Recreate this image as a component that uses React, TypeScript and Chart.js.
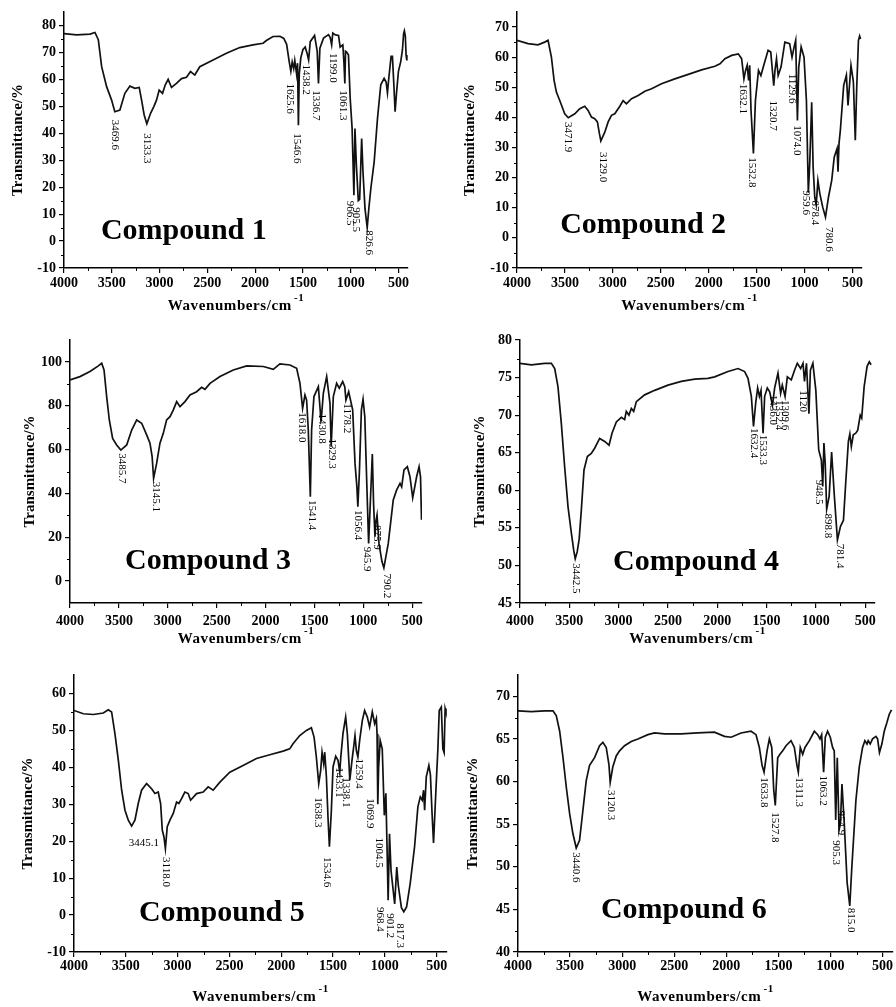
import React, { useEffect, useRef } from "react";
import { Chart, registerables } from "chart.js";

Chart.register(...registerables);

const FONT = '"Liberation Serif", "Times New Roman", serif';

// ---------- shared axis ticks ----------
const xTicks = [4000, 3500, 3000, 2500, 2000, 1500, 1000, 500];
const xMinor = [3750, 3250, 2750, 2250, 1750, 1250, 750];

// ---------- Compound 1 ----------
const wn1 = [4000, 3868, 3728, 3676, 3641, 3606, 3554, 3502, 3468, 3415, 3363, 3310, 3258, 3213, 3188, 3161, 3133, 3094, 3060, 3032, 3004, 2969, 2941, 2910, 2875, 2823, 2770, 2718, 2676, 2631, 2579, 2440, 2300, 2161, 2022, 1917, 1882, 1813, 1740, 1700, 1670, 1645, 1626, 1612, 1596, 1585, 1566, 1556, 1547, 1538, 1522, 1500, 1476, 1455, 1440, 1423, 1378, 1350, 1337, 1322, 1284, 1232, 1214, 1199, 1187, 1160, 1127, 1110, 1082, 1070, 1061, 1054, 1040, 1023, 1005, 985, 966, 955, 940, 920, 906, 897, 885, 870, 850, 827, 810, 789, 754, 719, 685, 650, 629, 615, 601, 577, 563, 548, 535, 520, 500, 476, 458, 446, 438, 428, 420, 412];
const t1 = [77, 76.5, 76.8, 77.4, 74.7, 64.7, 57.3, 52.3, 48, 48.6, 54.8, 57.5, 56.7, 57, 52.3, 46.8, 43.5, 47.4, 49.9, 52.3, 56, 54.8, 57.9, 60, 57, 58.5, 60.3, 60.8, 62.9, 61.6, 64.7, 67.2, 69.7, 71.8, 72.8, 73.4, 74.4, 75.9, 76, 75.2, 73, 67, 63, 66.5, 64, 67, 62, 66, 43, 62, 68, 71, 72, 69.5, 67.2, 74, 76.3, 70.4, 58.5, 71.6, 75.3, 76.6, 75.5, 72.8, 77.2, 76.5, 76.3, 72, 72.8, 66, 58.5, 70.4, 70, 69, 53, 41.8, 17, 41.8, 28, 15, 15.5, 25, 38, 25, 12, 5, 12, 19.5, 29.4, 45.6, 58, 60.4, 59, 55, 60.4, 68.5, 68.5, 58, 48, 55, 63, 66.6, 71, 77, 78, 76, 69, 67];
const peakText1 = ["3469.6", "3133.3", "1625.6", "1546.6", "1438.2", "1336.7", "1199.0", "1061.3", "966.5", "905.5", "826.6"];
const peakX1 = [3467, 3136, 1639, 1558, 1465, 1360, 1186, 1081, 1005, 949, 813];
const peakY1 = [45, 40, 58.5, 40, 65.5, 56, 69.8, 56, 15, 12.5, 4];
const yTicks1 = [-10, 0, 10, 20, 30, 40, 50, 60, 70, 80];

// ---------- Compound 2 ----------
const wn2 = [4000, 3885, 3781, 3711, 3676, 3641, 3613, 3589, 3554, 3502, 3465, 3397, 3345, 3293, 3258, 3223, 3189, 3161, 3140, 3125, 3084, 3049, 3014, 2980, 2927, 2893, 2858, 2805, 2736, 2666, 2596, 2492, 2353, 2213, 2074, 1935, 1882, 1830, 1760, 1691, 1656, 1632, 1615, 1598, 1583, 1572, 1558, 1533, 1512, 1480, 1455, 1425, 1380, 1352, 1321, 1308, 1292, 1275, 1245, 1205, 1155, 1130, 1108, 1092, 1074, 1060, 1035, 1005, 980, 960, 945, 925, 910, 893, 878, 860, 840, 810, 781, 750, 716, 690, 660, 650, 640, 626, 591, 563, 546, 515, 490, 470, 455, 437, 425, 415];
const t2 = [65.6, 64.5, 64.1, 65, 65.6, 60, 52.3, 48.4, 45.6, 41.2, 39.9, 41.2, 42.9, 43.7, 42.3, 40.1, 39.6, 38.5, 34.6, 32.2, 35.1, 38.5, 40.7, 41.2, 43.7, 45.6, 44.5, 46.2, 47.3, 48.7, 49.5, 51.2, 52.8, 54.3, 55.8, 57, 57.8, 59.5, 60.6, 61.1, 59.5, 52.8, 55.6, 57.3, 52.3, 57.3, 42.3, 28, 45.6, 55.6, 53.9, 57.3, 62.3, 61.7, 50.5, 55.6, 59.5, 53.9, 56.7, 65, 64.5, 60, 63.4, 65.6, 39, 56.7, 63.4, 60, 45.6, 15, 25, 45, 23.5, 13.5, 11, 19, 14.7, 10.2, 6.9, 13.5, 19.1, 26.8, 29.7, 22, 31.3, 35.7, 50.6, 54, 44, 57.3, 51.8, 32.4, 50, 65.6, 67, 66];
const peakText2 = ["3471.9", "3129.0", "1632.1", "1532.8", "1320.7", "1129.6", "1074.0", "959.6", "878.4", "780.6"];
const peakX2 = [3467, 3101, 1640, 1550, 1325, 1133, 1081, 985, 890, 750];
const peakY2 = [38.5, 28.5, 51.2, 26.8, 45.6, 54.5, 37.4, 15.8, 12.4, 3.6];
const yTicks2 = [-10, 0, 10, 20, 30, 40, 50, 60, 70];

// ---------- Compound 3 ----------
const wn3 = [4000, 3898, 3796, 3710, 3676, 3652, 3625, 3598, 3564, 3523, 3480, 3420, 3369, 3318, 3267, 3216, 3182, 3160, 3145, 3114, 3080, 3046, 3012, 2977, 2943, 2909, 2875, 2824, 2773, 2705, 2654, 2620, 2568, 2466, 2330, 2193, 2023, 1921, 1853, 1750, 1682, 1648, 1621, 1597, 1580, 1563, 1542, 1529, 1505, 1460, 1432, 1409, 1375, 1341, 1329, 1307, 1273, 1246, 1211, 1190, 1178, 1150, 1109, 1085, 1066, 1056, 1040, 1020, 1003, 985, 965, 946, 920, 908, 895, 881, 872, 860, 840, 810, 790, 745, 694, 660, 625, 608, 584, 550, 523, 495, 455, 430, 415, 405];
const t3 = [91.8, 93.3, 95.6, 98.2, 99.4, 96.3, 84.2, 73.5, 65.1, 62.1, 59.8, 62.1, 68.9, 73.5, 72, 66.7, 62.9, 56.8, 46.9, 53.7, 62.9, 67.4, 73.5, 75, 78.1, 81.9, 79.6, 81.9, 84.9, 86.4, 88.4, 87.5, 90.2, 93.3, 96.3, 98.2, 97.9, 96.6, 99.1, 98.6, 97.1, 90.2, 78.8, 84.9, 82.6, 68.9, 38.5, 68.9, 84.2, 88.7, 72.7, 85.7, 93.3, 81.1, 61.3, 84.2, 90.2, 88, 91, 88.7, 82.6, 86.4, 78.1, 53.7, 43.1, 33.9, 50, 78, 83, 75, 45, 17.2, 45, 58, 35, 20.2, 27, 30.1, 17.2, 9, 6, 17.2, 37, 41.5, 44.6, 43, 50.7, 52.2, 47.6, 38, 47.6, 52.2, 47.6, 28];
const peakText3 = ["3485.7", "3145.1", "1618.0", "1541.4", "1430.8", "1329.3", "1178.2", "1056.4", "945.9", "875.9", "790.2"];
const peakX3 = [3472, 3121, 1631, 1529, 1420, 1317, 1171, 1051, 966, 864, 762];
const peakY3 = [58.3, 45.3, 77, 37, 76.5, 65.1, 81.1, 32.4, 15.7, 25.6, 3.5];
const yTicks3 = [0, 20, 40, 60, 80, 100];

// ---------- Compound 4 ----------
const wn4 = [4000, 3885, 3750, 3682, 3648, 3615, 3581, 3547, 3513, 3479, 3455, 3440, 3420, 3400, 3378, 3351, 3317, 3277, 3243, 3192, 3141, 3097, 3067, 3023, 2972, 2939, 2922, 2895, 2871, 2847, 2820, 2736, 2634, 2499, 2364, 2229, 2094, 2026, 1891, 1789, 1722, 1688, 1654, 1632, 1610, 1590, 1572, 1556, 1535, 1519, 1492, 1468, 1440, 1418, 1384, 1357, 1340, 1312, 1289, 1249, 1215, 1188, 1154, 1130, 1115, 1095, 1070, 1055, 1030, 1000, 971, 944, 930, 918, 905, 890, 865, 840, 812, 781, 750, 720, 695, 670, 655, 640, 620, 595, 575, 550, 535, 510, 480, 458, 440];
const t4 = [76.9, 76.7, 76.9, 76.9, 76.2, 73.8, 68.9, 63.1, 57.8, 54.3, 52, 50.9, 51.8, 53.5, 57.4, 62.7, 64.5, 64.9, 65.6, 66.9, 66.5, 66, 67.6, 69.1, 69.7, 69.4, 70.5, 70, 70.9, 70.5, 71.8, 72.7, 73.3, 74, 74.5, 74.8, 74.9, 75.1, 75.8, 76.2, 75.8, 74.9, 72.5, 68.5, 71.6, 73.6, 72.5, 73.3, 67.6, 72.5, 73.6, 73.1, 71.3, 73.6, 75.6, 72.9, 74, 72.5, 75.1, 74.7, 76, 76.9, 76.2, 76.9, 74.5, 76.9, 70.2, 76, 76.9, 73.3, 65.4, 64, 60.5, 66.3, 63.6, 57.5, 59.2, 65.1, 59.2, 53.4, 55.2, 56, 61.4, 66.5, 67.5, 65.8, 67.4, 67.6, 68, 70, 69.6, 73.8, 76.5, 77.1, 76.7];
const peakText4 = ["3442.5", "1632.4", "1533.3", "1436.0", "1352.4", "1309.6", "1120", "948.5", "898.8", "781.4"];
const peakX4 = [3429, 1632, 1540, 1437, 1373, 1312, 1133, 964, 880, 755];
const peakY4 = [50.3, 68.3, 67.4, 72.7, 72, 72, 73.3, 61.4, 56.9, 52.9];
const yTicks4 = [45, 50, 55, 60, 65, 70, 75, 80];

// ---------- Compound 5 ----------
const wn5 = [4000, 3910, 3813, 3717, 3669, 3637, 3605, 3572, 3540, 3508, 3476, 3444, 3412, 3380, 3348, 3299, 3251, 3219, 3187, 3164, 3148, 3132, 3118, 3100, 3074, 3042, 3010, 2988, 2962, 2930, 2898, 2875, 2817, 2753, 2705, 2657, 2592, 2496, 2368, 2239, 2110, 1982, 1918, 1886, 1821, 1757, 1709, 1683, 1661, 1638, 1619, 1606, 1590, 1580, 1564, 1548, 1535, 1516, 1500, 1474, 1452, 1435, 1425, 1404, 1378, 1362, 1346, 1338, 1317, 1301, 1288, 1275, 1260, 1243, 1217, 1195, 1169, 1147, 1121, 1098, 1082, 1075, 1068, 1060, 1045, 1025, 1005, 990, 980, 968, 955, 940, 905, 885, 870, 840, 817, 790, 755, 713, 681, 658, 639, 626, 616, 600, 575, 560, 545, 530, 505, 488, 475, 455, 440, 428, 418, 410];
const t5 = [55.4, 54.5, 54.3, 54.7, 55.6, 55, 49.1, 41.9, 33.8, 28.4, 25.7, 24.1, 25.7, 30.2, 33.8, 35.6, 34.2, 32.9, 33.3, 30.2, 23, 21.2, 18, 23.9, 25.7, 27.5, 30.6, 30.2, 31.5, 33.3, 32.9, 31.1, 32.9, 33.3, 34.7, 33.8, 36, 38.7, 40.5, 42.4, 43.4, 44.4, 45, 46.4, 48.6, 50, 50.7, 48.2, 42.8, 35.6, 39.2, 44.1, 41, 44.1, 37.4, 26.1, 18.5, 28.4, 40.1, 43, 41.9, 38.7, 42.8, 49.1, 53.6, 49.1, 41, 36.5, 41.9, 45.5, 48.6, 44.6, 42.8, 47.3, 52.7, 55.4, 53.6, 50.9, 55, 51.8, 53.2, 49, 30, 40, 47.3, 45, 27, 33, 20, 4, 22, 12, 3, 13, 8, 2, 0.9, 2.2, 8.6, 18.5, 29.3, 32, 31.1, 33.8, 28.4, 37.4, 40.5, 38, 28, 19.5, 35, 45, 55.4, 56.3, 45, 44, 55.9, 55];
const peakText5 = ["3118.0", "1638.3", "1534.6", "1433.1", "1338.1", "1259.4", "1069.9", "1004.5", "968.4", "901.2", "817.3"];
const peakX5 = [3116, 1645, 1560, 1443, 1372, 1250, 1147, 1057, 1044, 954, 858];
const peakY5 = [15.7, 31.9, 15.7, 40, 37.3, 42.4, 31.6, 21, 2.2, 0.5, -2.2];
const flatText5 = ["3445.1"];
const flatX5 = [3325];
const flatY5 = [19.5];
const yTicks5 = [-10, 0, 10, 20, 30, 40, 50, 60];

// ---------- Compound 6 ----------
const wn6 = [4000, 3872, 3744, 3664, 3632, 3600, 3568, 3536, 3504, 3473, 3441, 3409, 3377, 3345, 3313, 3265, 3217, 3185, 3153, 3127, 3115, 3090, 3057, 3025, 2977, 2913, 2849, 2753, 2689, 2594, 2434, 2274, 2114, 2018, 1954, 1859, 1763, 1715, 1683, 1657, 1638, 1609, 1587, 1564, 1545, 1530, 1507, 1485, 1459, 1427, 1379, 1347, 1322, 1309, 1290, 1267, 1245, 1203, 1155, 1123, 1101, 1085, 1066, 1050, 1028, 1002, 980, 964, 950, 935, 918, 905, 890, 868, 840, 815, 795, 756, 724, 692, 670, 650, 638, 619, 596, 564, 548, 530, 507, 484, 459, 436, 414];
const t6 = [68.3, 68.2, 68.3, 68.3, 67.7, 65.9, 62.8, 59.3, 56.2, 53.9, 52.2, 53.1, 56.6, 60.1, 61.9, 62.8, 64.2, 64.6, 64, 62, 59.9, 61.7, 63, 63.6, 64.2, 64.7, 65, 65.5, 65.7, 65.6, 65.6, 65.7, 65.8, 65.3, 65.2, 65.7, 65.9, 65.5, 64, 61.9, 61.1, 63.6, 65, 64, 59, 57.2, 62.8, 63.2, 63.6, 64.2, 64.8, 64, 61.9, 61.1, 64, 63.2, 64, 64.8, 65.9, 65.5, 65, 65.5, 61.1, 65.2, 65.9, 65.2, 64, 63.6, 55.5, 62.8, 54.3, 55.1, 59.7, 55.1, 48.1, 45.4, 50, 57.8, 61.7, 64, 64.8, 64.4, 64.8, 64.4, 65, 65.3, 65, 63.4, 64.4, 65.9, 66.9, 67.9, 68.4];
const peakText6 = ["3440.6", "3120.3", "1633.8", "1527.8", "1311.3", "1063.2", "954.9", "905.3", "815.0"];
const peakX6 = [3441, 3105, 1641, 1535, 1302, 1072, 905, 952, 807];
const peakY6 = [51.7, 59, 60.5, 56.4, 60.5, 60.7, 56.6, 53.1, 45.2];
const yTicks6 = [40, 45, 50, 55, 60, 65, 70];

// ---------- layout table ----------
const panels = [
  { wn: wn1, t: t1, pt: peakText1, px: peakX1, py: peakY1, ft: [], fx: [], fy: [], yTicks: yTicks1, yMin: -10, yMax: 85, title: "Compound 1", tx: 2746, ty: 0.7,
    cx: 0, cy: 0, w: 448, h: 325, L: 64, R: 408, T: 12, B: 268, tickPad: 2, yTitleX: 18, xTitleY: 306 },
  { wn: wn2, t: t2, pt: peakText2, px: peakX2, py: peakY2, ft: [], fx: [], fy: [], yTicks: yTicks2, yMin: -10, yMax: 75, title: "Compound 2", tx: 2684, ty: 1.5,
    cx: 448, cy: 0, w: 448, h: 325, L: 517, R: 862, T: 12, B: 268, tickPad: 2, yTitleX: 22, xTitleY: 306 },
  { wn: wn3, t: t3, pt: peakText3, px: peakX3, py: peakY3, ft: [], fx: [], fy: [], yTicks: yTicks3, yMin: -10, yMax: 110, title: "Compound 3", tx: 2589, ty: 5.5,
    cx: 0, cy: 325, w: 448, h: 335, L: 70, R: 422, T: 340, B: 603, tickPad: 5, yTitleX: 30, xTitleY: 314 },
  { wn: wn4, t: t4, pt: peakText4, px: peakX4, py: peakY4, ft: [], fx: [], fy: [], yTicks: yTicks4, yMin: 45, yMax: 80, title: "Compound 4", tx: 2215, ty: 49.4,
    cx: 448, cy: 325, w: 448, h: 335, L: 520, R: 875, T: 340, B: 603, tickPad: 5, yTitleX: 32, xTitleY: 314 },
  { wn: wn5, t: t5, pt: peakText5, px: peakX5, py: peakY5, ft: flatText5, fx: flatX5, fy: flatY5, yTicks: yTicks5, yMin: -10, yMax: 65, title: "Compound 5", tx: 2573, ty: -1.5,
    cx: 0, cy: 660, w: 448, h: 347, L: 74, R: 447, T: 675, B: 952, tickPad: 1, yTitleX: 28, xTitleY: 337 },
  { wn: wn6, t: t6, pt: peakText6, px: peakX6, py: peakY6, ft: [], fx: [], fy: [], yTicks: yTicks6, yMin: 40, yMax: 72.5, title: "Compound 6", tx: 2408, ty: 44,
    cx: 448, cy: 660, w: 448, h: 347, L: 518, R: 893, T: 675, B: 952, tickPad: 1, yTitleX: 25, xTitleY: 337 },
];

type PanelCfg = (typeof panels)[number];

const decorPlugin = {
  id: "decor",
  afterDatasetsDraw(chart: any, _args: any, opts: any) {
    const cfg: PanelCfg = opts.cfg;
    if (!cfg) return;
    const { ctx, chartArea } = chart;
    const xs = chart.scales.x;
    const ys = chart.scales.y;
    ctx.save();
    // minor ticks
    ctx.strokeStyle = "#000";
    ctx.lineWidth = 1;
    ctx.beginPath();
    for (const v of xMinor) {
      const p = Math.round(xs.getPixelForValue(v)) + 0.5;
      ctx.moveTo(p, chartArea.bottom);
      ctx.lineTo(p, chartArea.bottom + 3);
    }
    const yt = cfg.yTicks;
    for (let i = 0; i < yt.length - 1; i++) {
      const p = Math.round(ys.getPixelForValue((yt[i] + yt[i + 1]) / 2)) + 0.5;
      ctx.moveTo(chartArea.left - 3, p);
      ctx.lineTo(chartArea.left, p);
    }
    ctx.stroke();

    // peak labels (rotated, reading downward)
    ctx.fillStyle = "#000";
    ctx.font = `11px ${FONT}`;
    ctx.textAlign = "left";
    ctx.textBaseline = "middle";
    cfg.pt.forEach((txt: string, i: number) => {
      const x = xs.getPixelForValue(cfg.px[i]);
      const y = ys.getPixelForValue(cfg.py[i]);
      ctx.save();
      ctx.translate(x, y);
      ctx.rotate(Math.PI / 2);
      ctx.fillText(txt, 0, 0);
      ctx.restore();
    });
    // horizontal peak labels
    ctx.textAlign = "center";
    (cfg.ft as string[]).forEach((txt, i) => {
      ctx.fillText(txt, xs.getPixelForValue((cfg.fx as number[])[i]), ys.getPixelForValue((cfg.fy as number[])[i]));
    });

    // compound name
    ctx.font = `bold 30px ${FONT}`;
    ctx.textAlign = "center";
    ctx.textBaseline = "alphabetic";
    ctx.fillText(cfg.title, xs.getPixelForValue(cfg.tx), ys.getPixelForValue(cfg.ty));

    // y axis title
    ctx.font = `bold 15px ${FONT}`;
    ctx.textBaseline = "middle";
    ctx.save();
    ctx.translate(cfg.yTitleX, (chartArea.top + chartArea.bottom) / 2);
    ctx.rotate(-Math.PI / 2);
    ctx.fillText("Transmittance/%", 0, 0);
    ctx.restore();

    // x axis title with superscript
    const main = "Wavenumbers/cm";
    const sup = "-1";
    ctx.font = `bold 15px ${FONT}`;
    (ctx as any).letterSpacing = "0.6px";
    const wMain = ctx.measureText(main).width;
    ctx.font = `bold 11px ${FONT}`;
    const wSup = ctx.measureText(sup).width;
    const total = wMain + 2 + wSup;
    const cxm = (chartArea.left + chartArea.right) / 2;
    const startX = cxm - total / 2;
    ctx.textAlign = "left";
    ctx.font = `bold 15px ${FONT}`;
    ctx.fillText(main, startX, cfg.xTitleY);
    ctx.font = `bold 11px ${FONT}`;
    ctx.fillText(sup, startX + wMain + 2, cfg.xTitleY - 8);
    ctx.restore();
  },
};

function Spectrum({ cfg }: { cfg: PanelCfg }) {
  const ref = useRef<HTMLCanvasElement>(null);
  useEffect(() => {
    if (!ref.current) return;
    const points = cfg.wn.map((x: number, i: number) => ({ x, y: cfg.t[i] }));
    const yW = cfg.L - cfg.cx;
    const xH = cfg.cy + cfg.h - cfg.B;
    const chart = new Chart(ref.current, {
      type: "line",
      data: {
        datasets: [
          {
            data: points,
            borderColor: "#111",
            borderWidth: 1.7,
            pointRadius: 0,
            tension: 0,
            fill: false,
          },
        ],
      },
      options: {
        animation: false,
        responsive: false,
        devicePixelRatio: 1,
        events: [],
        layout: {
          padding: { left: 0, bottom: 0, top: cfg.T - cfg.cy, right: cfg.cx + cfg.w - cfg.R },
        },
        plugins: {
          legend: { display: false },
          tooltip: { enabled: false },
          decor: { cfg },
        } as any,
        scales: {
          x: {
            type: "linear",
            reverse: true,
            min: 400,
            max: 4000,
            afterBuildTicks: (s: any) => {
              s.ticks = xTicks.map((v) => ({ value: v }));
            },
            afterFit: (s: any) => {
              s.height = xH;
              s.paddingLeft = 0;
              s.paddingRight = 0;
            },
            grid: { drawOnChartArea: false, drawTicks: true, tickLength: 5, color: "#000", lineWidth: 1.2 },
            border: { display: true, color: "#000", width: 1.5 },
            ticks: {
              color: "#000",
              padding: cfg.tickPad,
              maxRotation: 0,
              autoSkip: false,
              callback: (v: any) => String(v),
              font: { family: FONT, size: 14, weight: "bold" },
            },
          },
          y: {
            type: "linear",
            min: cfg.yMin,
            max: cfg.yMax,
            afterBuildTicks: (s: any) => {
              s.ticks = cfg.yTicks.map((v: number) => ({ value: v }));
            },
            afterFit: (s: any) => {
              s.width = yW;
              s.paddingTop = 0;
              s.paddingBottom = 0;
            },
            grid: { drawOnChartArea: false, drawTicks: true, tickLength: 5, color: "#000", lineWidth: 1.2 },
            border: { display: true, color: "#000", width: 1.5 },
            ticks: {
              color: "#000",
              padding: 3,
              autoSkip: false,
              callback: (v: any) => String(v),
              font: { family: FONT, size: 14, weight: "bold" },
            },
          },
        },
      } as any,
      plugins: [decorPlugin as any],
    });
    return () => chart.destroy();
  }, [cfg]);
  return (
    <canvas
      ref={ref}
      width={cfg.w}
      height={cfg.h}
      style={{ position: "absolute", left: cfg.cx, top: cfg.cy, width: cfg.w, height: cfg.h }}
    />
  );
}

export default function App() {
  return (
    <div style={{ position: "absolute", left: 0, top: 0, width: 896, height: 1007, background: "#fff", overflow: "hidden" }}>
      {panels.map((p, i) => (
        <Spectrum key={i} cfg={p} />
      ))}
    </div>
  );
}
